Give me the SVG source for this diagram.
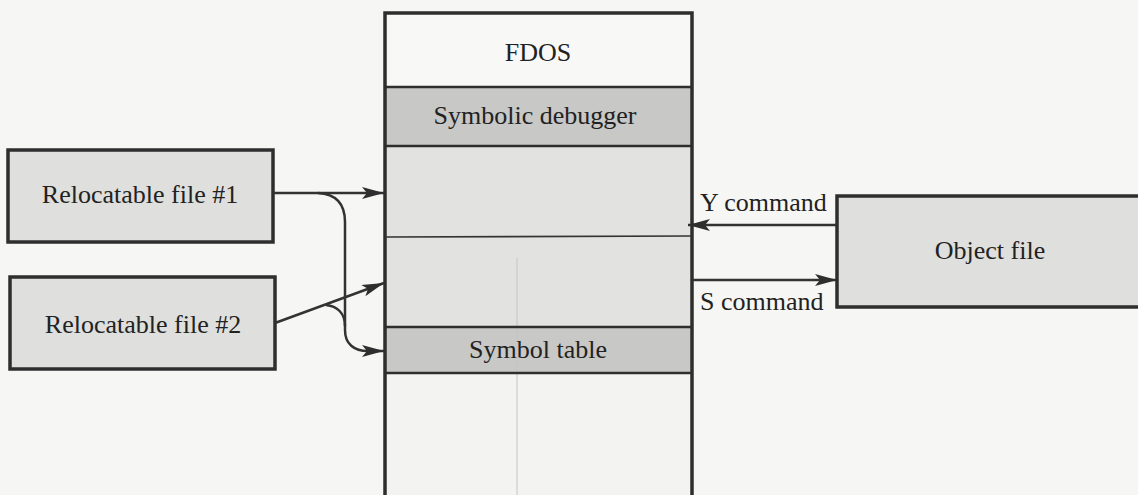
<svg xmlns="http://www.w3.org/2000/svg" width="1138" height="495" viewBox="0 0 1138 495">
<defs>
<style>
.t{font-family:"Liberation Serif","Times New Roman",serif;font-size:26px;fill:#222}
.box{stroke:#2e2e2e;stroke-width:3.5;fill:#dfdfdd}
.dark{fill:#c8c8c6}
.div{stroke:#2e2e2e;stroke-width:2.5}
.con{stroke:#333;stroke-width:2.5;fill:none}
</style>
<marker id="ah" viewBox="0 0 22 12" refX="22" refY="6" markerWidth="22" markerHeight="12" markerUnits="userSpaceOnUse" orient="auto">
<path d="M0,0 L22,6 L0,12 L5,6 Z" fill="#2e2e2e"/>
</marker>
</defs>
<rect width="1138" height="495" fill="#f6f6f4"/>
<g id="memory">
<rect x="385" y="13" width="307" height="74" fill="#f8f8f7"/>
<rect x="385" y="87" width="307" height="59" class="dark"/>
<rect x="385" y="146" width="307" height="181" fill="#e2e2e0"/>
<rect x="385" y="327" width="307" height="46" class="dark"/>
<rect x="385" y="373" width="307" height="130" fill="#f3f3f2"/>
<line x1="517" y1="258" x2="517" y2="495" stroke="#c4c4c4" stroke-width="1"/>
<rect x="385" y="13" width="307" height="490" fill="none" stroke="#2e2e2e" stroke-width="3.5"/>
<line class="div" x1="385" y1="87" x2="692" y2="87"/>
<line class="div" x1="385" y1="146" x2="692" y2="146"/>
<line x1="385" y1="237" x2="692" y2="236" stroke="#333" stroke-width="1.6"/>
<line class="div" x1="385" y1="327" x2="692" y2="327"/>
<line class="div" x1="385" y1="373" x2="692" y2="373"/>
<text class="t" x="538" y="61" text-anchor="middle">FDOS</text>
<text class="t" x="535" y="124" text-anchor="middle">Symbolic debugger</text>
<text class="t" x="538" y="358" text-anchor="middle">Symbol table</text>
</g>
<g id="reloc1">
<rect class="box" x="8" y="150" width="265" height="92"/>
<text class="t" x="140" y="203" text-anchor="middle">Relocatable file #1</text>
</g>
<g id="reloc2">
<rect class="box" x="10" y="277" width="265" height="92"/>
<text class="t" x="143" y="333" text-anchor="middle">Relocatable file #2</text>
</g>
<g id="objfile">
<rect class="box" x="837" y="196" width="310" height="111"/>
<text class="t" x="990" y="259" text-anchor="middle">Object file</text>
</g>
<g id="connectors">
<line class="con" x1="273" y1="193" x2="384" y2="193" marker-end="url(#ah)"/>
<line class="con" x1="275" y1="323" x2="384" y2="283" marker-end="url(#ah)"/>
<path class="con" d="M318 193 C336 194 345 204 345 222 L345 330 C345 344 354 351 368 351 L384 351" marker-end="url(#ah)"/>
<path class="con" d="M326 305 C337 306 345 313 345 326"/>
<line class="con" x1="837" y1="225" x2="688" y2="225" marker-end="url(#ah)"/>
<line class="con" x1="692" y1="280" x2="837" y2="280" marker-end="url(#ah)"/>
<text class="t" x="700" y="211">Y command</text>
<text class="t" x="700" y="310">S command</text>
</g>
</svg>
